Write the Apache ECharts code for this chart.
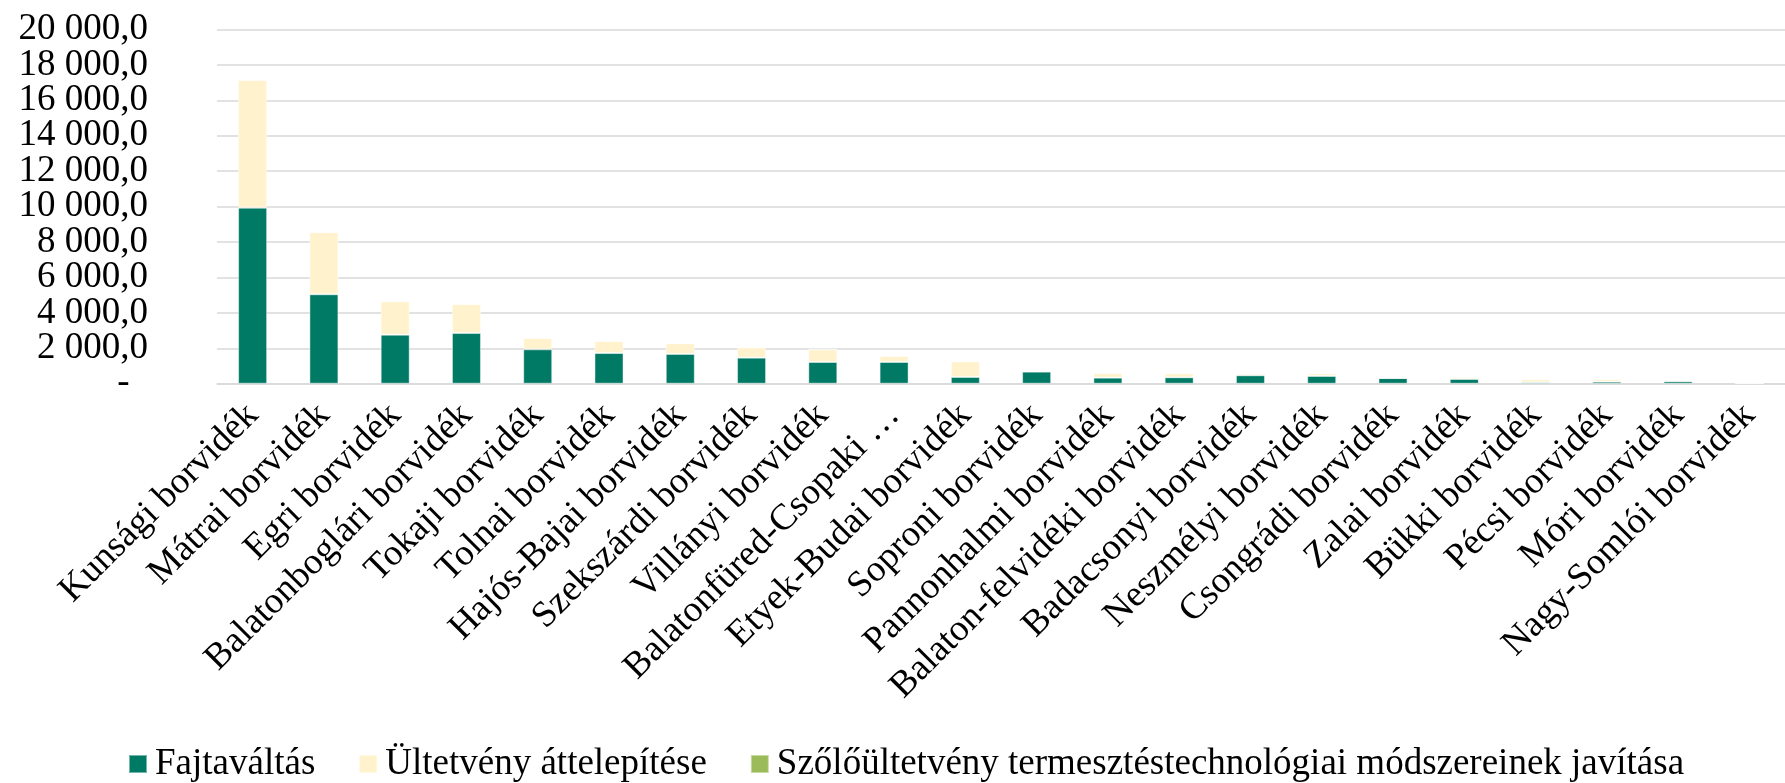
<!DOCTYPE html>
<html>
<head>
<meta charset="utf-8">
<script src="https://cdn.jsdelivr.net/npm/echarts@6/dist/echarts.min.js"></script>
<style>
  html, body { margin: 0; padding: 0; background: #fff; }
  #chart { width: 1785px; height: 783px; }
</style>
</head>
<body>
<div id="chart"></div>
<script>
const categories = [
  'Kunsági borvidék', 'Mátrai borvidék', 'Egri borvidék', 'Balatonboglári borvidék',
  'Tokaji borvidék', 'Tolnai borvidék', 'Hajós-Bajai borvidék', 'Szekszárdi borvidék',
  'Villányi borvidék', 'Balatonfüred-Csopaki …', 'Etyek-Budai borvidék', 'Soproni borvidék',
  'Pannonhalmi borvidék', 'Balaton-felvidéki borvidék', 'Badacsonyi borvidék', 'Neszmélyi borvidék',
  'Csongrádi borvidék', 'Zalai borvidék', 'Bükki borvidék', 'Pécsi borvidék',
  'Móri borvidék', 'Nagy-Somlói borvidék'
]
const seriesNames = [
  'Fajtaváltás',
  'Ültetvény áttelepítése',
  'Szőlőültetvény termesztéstechnológiai módszereinek javítása'
]
const fajtavaltas = [9940, 5050, 2770, 2860, 1940, 1730, 1680, 1470, 1225, 1225, 380, 680, 340, 360, 475, 435, 320, 265, 80, 115, 135, 40]
const attelepites = [7210, 3500, 1880, 1640, 640, 680, 600, 580, 710, 340, 880, 60, 260, 225, 110, 150, 0, 110, 170, 150, 75, 0]
const modszerek = [0, 0, 25, 0, 0, 0, 0, 20, 20, 0, 30, 15, 0, 0, 0, 0, 0, 0, 20, 15, 10, 0]
const colors = ['#007a65', '#fff2cc', '#9bbb59']

const fontFamily = "'Liberation Serif', 'Times New Roman', serif"
const yMax = 20000

// szóköz ezres elválasztó, tizedesvessző; a nulla helyén kötőjel
const formatValue = (v) => {
  if (v === 0) return '-  '
  const s = Math.round(v).toString().replace(/\B(?=(\d{3})+(?!\d))/g, ' ')
  return s + ',0'
}

const yLabel = {
  margin: 69,
  fontFamily,
  fontSize: 37,
  color: '#000',
  formatter: formatValue,
}

const makeSeries = (name, data, color) => ({
  name,
  type: 'bar',
  stack: 'total',
  barWidth: 29,
  data,
  itemStyle: { color, borderColor: 'rgba(255,255,255,0.45)', borderWidth: 1 },
  emphasis: { disabled: true },
})

const chart = echarts.init(document.getElementById('chart'))
chart.setOption({
  animation: false,
  color: colors,
  textStyle: { fontFamily },
  grid: { left: 217, right: -12, top: 29.5, bottom: 399.3 },
  legend: {
    left: 123,
    top: 739,
    icon: 'rect',
    itemWidth: 18,
    itemHeight: 18,
    itemGap: 43,
    data: seriesNames,
    textStyle: { fontFamily, fontSize: 37, color: '#000', lineHeight: 40, padding: [0, 0, 0, 3] },
  },
  xAxis: {
    type: 'category',
    data: categories,
    axisTick: { show: false },
    axisLine: { lineStyle: { color: '#d9d9d9', width: 1.5 } },
    axisLabel: {
      interval: 0,
      rotate: 45,
      margin: 26,
      padding: [30, 0, 0, 0],
      fontFamily,
      fontSize: 37,
      color: '#000',
    },
  },
  yAxis: [
    {
      // belső osztásvonalak és feliratok
      type: 'value',
      min: 0,
      max: yMax,
      interval: 2000,
      axisLine: { show: false },
      axisTick: { show: false },
      splitLine: { lineStyle: { color: '#d9d9d9', width: 1.5 } },
      axisLabel: { ...yLabel, showMinLabel: false, showMaxLabel: false },
    },
    {
      // a két szélső felirat külön tengelyen, hogy ne rejtse el az átfedés-szűrő
      type: 'value',
      position: 'left',
      min: 0,
      max: yMax,
      interval: yMax,
      axisLine: { show: false },
      axisTick: { show: false },
      splitLine: { show: false },
      axisLabel: yLabel,
    },
  ],
  series: [
    makeSeries(seriesNames[0], fajtavaltas, colors[0]),
    makeSeries(seriesNames[1], attelepites, colors[1]),
    makeSeries(seriesNames[2], modszerek, colors[2]),
  ],
})
</script>
</body>
</html>
